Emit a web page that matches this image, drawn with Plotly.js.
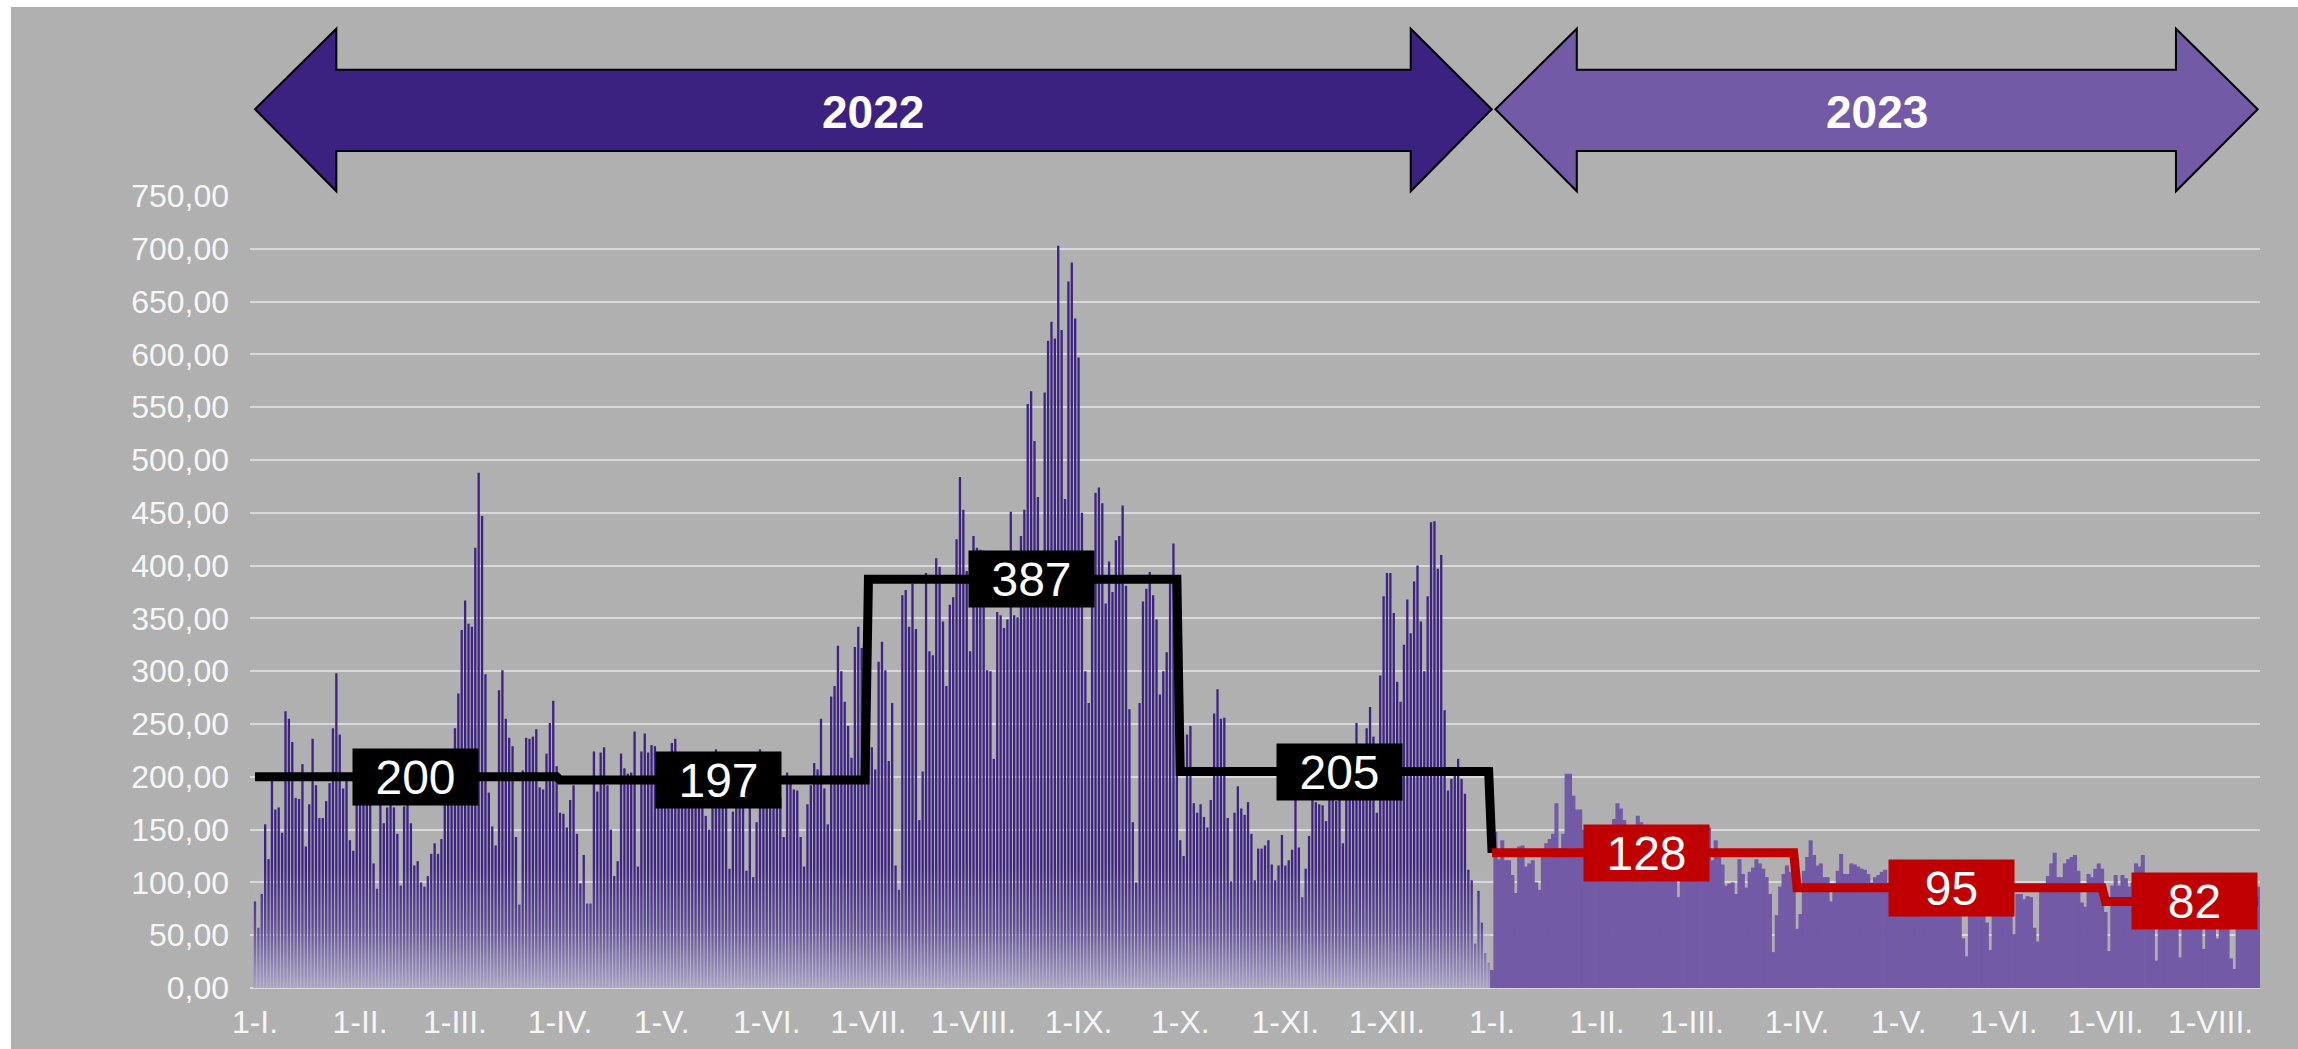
<!DOCTYPE html>
<html>
<head>
<meta charset="utf-8">
<script src="https://cdn.plot.ly/plotly-3.0.1.min.js"></script>
<style>
  html, body { margin: 0; padding: 0; background: #ffffff; width: 2298px; height: 1049px; overflow: hidden; }
  #chart { position: absolute; left: 11px; top: 7px; width: 2287px; height: 1042px; }
</style>
</head>
<body>
<div id="chart"></div>
<script>
// ---- Daily values, 2022 (one array per month) ----
const jan22 = [82,57,89,155,122,196,169,171,147,262,255,233,180,179,212,134,174,236,192,161,161,177,194,246,298,240,189,197,140,130,195];
const feb22 = [200,185,190,178,118,94,175,156,171,180,171,146,97,172,177,156,116,120,100,96,106,127,137,127,141,226,200,205];
const mar22 = [246,279,339,367,345,342,417,488,447,297,185,153,135,282,301,255,237,229,143,79,206,237,236,238,245,190,188,222,251,272,210];
const apr22 = [166,165,152,178,192,146,99,126,80,80,224,186,223,228,192,150,106,120,222,208,203,204,243,115,224,241,223,230,229,200];
const may22 = [210,195,205,232,236,200,185,215,190,205,180,210,195,163,150,200,226,205,190,200,113,167,185,210,195,111,190,105,157,226,205];
const jun22 = [190,200,185,210,180,143,204,195,188,187,143,115,174,192,213,207,255,189,155,276,286,324,300,271,248,218,323,342,322,300];
const jul22 = [260,228,207,309,328,301,215,270,116,93,372,377,342,383,340,159,205,393,319,315,407,399,347,286,363,370,425,484,453,395,319];
const aug22 = [428,417,415,414,301,300,217,356,353,341,349,451,353,351,428,453,553,565,518,465,381,564,613,631,615,703,623,463,669,687,634];
const sep22 = [597,450,300,270,385,469,474,459,364,404,375,424,428,457,381,264,157,100,270,366,378,394,372,349,278,300,318,384,421,300];
const oct22 = [140,125,240,248,175,166,174,162,152,178,260,283,255,256,161,101,166,191,170,164,176,146,102,132,132,135,140,117,102,116,145];
const nov22 = [116,121,131,179,133,86,113,144,179,176,174,173,158,178,178,177,185,137,190,195,178,251,200,205,246,266,238,166,296,371];
const dec22 = [393,393,355,290,271,325,368,336,385,400,347,300,371,441,442,397,410,263,187,198,206,217,198,184,112,102,42,92,62,33,24];

// ---- Daily values, 2023 ----
const jan23 = [17,148,122,140,121,121,107,90,134,135,115,118,121,100,93,130,137,141,146,175,132,146,203,203,182,169,169,150,140,128,135];
const feb23 = [145,120,138,150,142,160,175,170,159,140,130,145,163,157,140,125,135,120,110,128,140,132,118,125,86,130,120,138];
const mar23 = [145,125,112,135,140,152,121,140,127,117,97,99,100,89,122,108,95,110,114,122,118,113,105,89,34,69,96,108,116,110,100];
const apr23 = [56,70,111,124,140,126,116,118,105,105,82,94,111,127,108,108,118,117,115,113,112,108,100,105,107,110,112,100,95,108];
const may23 = [112,98,90,105,110,102,96,88,100,106,95,92,85,98,104,96,90,82,78,47,30,75,88,95,92,80,62,36,70,85,92];
const jun23 = [88,80,72,51,89,89,84,87,86,57,44,92,99,106,118,128,105,105,118,122,124,126,111,81,77,108,105,113,118,113];
const jul23 = [72,35,97,107,97,107,104,96,100,118,115,126,95,88,70,26,80,92,88,95,85,78,29,82,90,95,88,80,72,37,78];
const aug23 = [85,75,47,80,88,65,28,18,70,85,92,88,80,95,96];

// ---- Quarterly averages ----
const quarters2022 = [['2022-01-01','2022-03-31'],['2022-04-01','2022-06-30'],['2022-07-01','2022-09-30'],['2022-10-01','2022-12-31']];
const avg2022 = [200,197,387,205];
const quarters2023 = [['2023-01-01','2023-03-31'],['2023-04-01','2023-06-30'],['2023-07-01','2023-08-15']];
const avg2023 = [128,95,82];
// label anchor dates for the average boxes
const labelDates2022 = ['2022-02-17 12:00','2022-05-17 18:00','2022-08-18','2022-11-16 22:00'];
const labelDates2023 = ['2023-02-15 16:00','2023-05-16 14:00','2023-07-27 05:00'];

// ---- Axis ticks ----
const tickDates = ['2022-01-01','2022-02-01','2022-03-01','2022-04-01','2022-05-01','2022-06-01','2022-07-01','2022-08-01','2022-09-01','2022-10-01','2022-11-01','2022-12-01',
                   '2023-01-01','2023-02-01','2023-03-01','2023-04-01','2023-05-01','2023-06-01','2023-07-01','2023-08-01'];
const tickLabels = ['1-I.','1-II.','1-III.','1-IV.','1-V.','1-VI.','1-VII.','1-VIII.','1-IX.','1-X.','1-XI.','1-XII.',
                    '1-I.','1-II.','1-III.','1-IV.','1-V.','1-VI.','1-VII.','1-VIII.'];
const yTicks = [0,50,100,150,200,250,300,350,400,450,500,550,600,650,700,750];
const yearLabels = ['2022','2023'];

function pad(n){ return (n < 10 ? '0' : '') + n; }
function buildSeries(year, months){
  const xs = [], ys = [];
  months.forEach((arr, m) => arr.forEach((v, d) => { xs.push(year + '-' + pad(m+1) + '-' + pad(d+1)); ys.push(v); }));
  return {xs, ys};
}
const s22 = buildSeries(2022, [jan22,feb22,mar22,apr22,may22,jun22,jul22,aug22,sep22,oct22,nov22,dec22]);
const s23 = buildSeries(2023, [jan23,feb23,mar23,apr23,may23,jun23,jul23,aug23]);

const DAY = 86400000;
const FONT = '"Liberation Sans", Arial, sans-serif';

// step lines
const blackX = [], blackY = [];
quarters2022.forEach((q, i) => { blackX.push(q[0], q[1]); blackY.push(avg2022[i], avg2022[i]); });
blackX.push(quarters2023[0][0]); blackY.push(avg2023[0]);
const redX = [], redY = [];
quarters2023.forEach((q, i) => { redX.push(q[0], q[1]); redY.push(avg2023[i], avg2023[i]); });

const traces = [
  { type: 'bar', x: s22.xs, y: s22.ys, width: s22.xs.map(() => 0.68 * DAY),
    marker: { color: '#3d2383', line: { width: 0 } }, hoverinfo: 'skip' },
  { type: 'bar', x: s23.xs, y: s23.ys, width: s23.xs.map(() => 1.2 * DAY),
    marker: { color: '#735aa6', line: { width: 0 } }, hoverinfo: 'skip' },
  { type: 'scatter', mode: 'lines', x: blackX, y: blackY,
    line: { color: '#000000', width: 9 }, hoverinfo: 'skip' },
  { type: 'scatter', mode: 'lines', x: redX, y: redY,
    line: { color: '#c00000', width: 9 }, hoverinfo: 'skip' }
];

const annotations = [];
avg2022.forEach((v, i) => annotations.push({
  x: labelDates2022[i], y: v, xref: 'x', yref: 'y', text: String(v), showarrow: false,
  xanchor: 'center', yanchor: 'middle',
  bgcolor: '#000000', width: 125, height: 56, borderpad: 0,
  font: { family: FONT, size: 48, color: '#ffffff' }
}));
avg2023.forEach((v, i) => annotations.push({
  x: labelDates2023[i], y: v, xref: 'x', yref: 'y', text: String(v), showarrow: false,
  xanchor: 'center', yanchor: 'middle',
  bgcolor: '#c00000', width: 125, height: 56, borderpad: 0,
  font: { family: FONT, size: 48, color: '#ffffff' }
}));
annotations.push({ x: '2022-07-02 06:00', y: 1.1055, xref: 'x', yref: 'paper', text: '<b>' + yearLabels[0] + '</b>', showarrow: false,
  xanchor: 'center', yanchor: 'middle',
  font: { family: FONT, size: 46, color: '#ffffff' } });
annotations.push({ x: '2023-04-24 12:00', y: 1.1055, xref: 'x', yref: 'paper', text: '<b>' + yearLabels[1] + '</b>', showarrow: false,
  xanchor: 'center', yanchor: 'middle',
  font: { family: FONT, size: 46, color: '#ffffff' } });

// double-headed arrow paths (x in dates, y in paper units)
function arrowPath(tipL, baseL, baseR, tipR){
  const yTip = 1.1095, yHeadTop = 1.2112, yHeadBot = 1.0060, yShaftTop = 1.1594, yShaftBot = 1.0567;
  return 'M ' + tipL + ' ' + yTip +
    ' L ' + baseL + ' ' + yHeadTop + ' L ' + baseL + ' ' + yShaftTop +
    ' L ' + baseR + ' ' + yShaftTop + ' L ' + baseR + ' ' + yHeadTop +
    ' L ' + tipR + ' ' + yTip +
    ' L ' + baseR + ' ' + yHeadBot + ' L ' + baseR + ' ' + yShaftBot +
    ' L ' + baseL + ' ' + yShaftBot + ' L ' + baseL + ' ' + yHeadBot + ' Z';
}
const shapes = [
  { type: 'path', xref: 'x', yref: 'paper', layer: 'above',
    path: arrowPath('2022-01-01', '2022-01-25', '2022-12-08', '2022-12-31_22:00'),
    fillcolor: '#3b2280', line: { color: '#000000', width: 2 } },
  { type: 'path', xref: 'x', yref: 'paper', layer: 'above',
    path: arrowPath('2023-01-02', '2023-01-26', '2023-07-21_19:00', '2023-08-14_22:00'),
    fillcolor: '#735aa6', line: { color: '#000000', width: 2 } }
];

// fade at the base of the 2022 bars
const gradSvg = "<svg xmlns='http://www.w3.org/2000/svg' width='100' height='100' viewBox='0 0 100 100' preserveAspectRatio='none'>" +
  "<defs><linearGradient id='g' x1='0' y1='0' x2='0' y2='1'>" +
  "<stop offset='0' stop-color='rgb(184,180,204)' stop-opacity='0'/>" +
  "<stop offset='0.5' stop-color='rgb(184,180,204)' stop-opacity='0.28'/>" +
  "<stop offset='1' stop-color='rgb(184,180,204)' stop-opacity='0.9'/>" +
  "</linearGradient></defs><rect x='0' y='0' width='100' height='100' fill='url(#g)'/></svg>";

const layout = {
  width: 2287, height: 1042,
  margin: { l: 239, r: 38, t: 189, b: 61, pad: 0 },
  paper_bgcolor: '#b0b0b0', plot_bgcolor: '#b0b0b0',
  separators: ',.',
  showlegend: false,
  barmode: 'overlay',
  font: { family: FONT, color: '#ffffff' },
  xaxis: {
    type: 'date', range: ['2021-12-30 12:40', '2023-08-15 14:00'],
    tickmode: 'array', tickvals: tickDates, ticktext: tickLabels,
    tickfont: { family: FONT, size: 32, color: '#f6f6f6' },
    showgrid: false, zeroline: false, showline: false, ticks: '',
    ticklabelstandoff: 12, fixedrange: true
  },
  yaxis: {
    range: [0, 750], tickmode: 'array', tickvals: yTicks, tickformat: '.2f',
    tickfont: { family: FONT, size: 32, color: '#f6f6f6' },
    showgrid: true, gridcolor: '#d9d9d9', gridwidth: 2,
    zeroline: true, zerolinecolor: '#d9d9d9', zerolinewidth: 2,
    showline: false, ticks: '', ticklabelstandoff: 20, fixedrange: true
  },
  annotations: annotations,
  shapes: shapes,
  images: [{
    source: 'data:image/svg+xml;charset=utf-8,' + encodeURIComponent(gradSvg),
    xref: 'paper', yref: 'y', x: 0.00164, y: 115, sizex: 0.6154, sizey: 115,
    xanchor: 'left', yanchor: 'top', sizing: 'stretch', layer: 'above', opacity: 1
  }]
};

Plotly.newPlot('chart', traces, layout, { displayModeBar: false, staticPlot: true });
</script>
</body>
</html>
